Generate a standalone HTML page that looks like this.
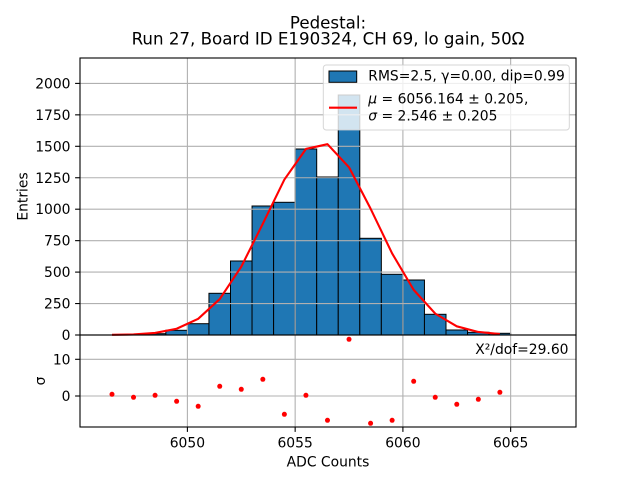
<!DOCTYPE html>
<html><head><meta charset="utf-8"><style>
html,body{margin:0;padding:0;background:#fff;}
svg{display:block;font-family:"DejaVu Sans","Liberation Sans",sans-serif;}
</style></head><body>
<svg width="640" height="480" viewBox="0 0 640 480" xmlns="http://www.w3.org/2000/svg">
<rect width="640" height="480" fill="#fff"/>
<!-- title -->
<text x="328" y="28.3" font-size="16.67" text-anchor="middle">Pedestal:</text>
<text x="328" y="44.3" font-size="16.67" text-anchor="middle">Run 27, Board ID E190324, CH 69, lo gain, 50Ω</text>

<!-- bars -->
<g fill="#1f77b4" stroke="#000" stroke-width="1">
<rect x="144.3" y="333.7" width="21.55" height="1.3"/>
<rect x="165.85" y="330.3" width="21.55" height="4.7"/>
<rect x="187.4" y="323.7" width="21.55" height="11.3"/>
<rect x="208.95" y="293.3" width="21.55" height="41.7"/>
<rect x="230.5" y="261" width="21.55" height="74"/>
<rect x="252.05" y="206" width="21.55" height="129"/>
<rect x="273.6" y="202.3" width="21.55" height="132.7"/>
<rect x="295.15" y="149" width="21.55" height="186"/>
<rect x="316.7" y="177" width="21.55" height="158"/>
<rect x="338.25" y="95" width="21.55" height="240"/>
<rect x="359.8" y="238.3" width="21.55" height="96.7"/>
<rect x="381.35" y="274.3" width="21.55" height="60.7"/>
<rect x="402.9" y="280" width="21.55" height="55"/>
<rect x="424.45" y="314.3" width="21.55" height="20.7"/>
<rect x="446.0" y="330" width="21.55" height="5"/>
<rect x="467.55" y="332.3" width="21.55" height="2.7"/>
<rect x="489.1" y="333.3" width="21.55" height="1.7"/>
</g>

<!-- grid top -->
<g stroke="#b0b0b0" stroke-width="1.1">
<line x1="80" x2="576" y1="303.55" y2="303.55"/>
<line x1="80" x2="576" y1="272.1" y2="272.1"/>
<line x1="80" x2="576" y1="240.65" y2="240.65"/>
<line x1="80" x2="576" y1="209.2" y2="209.2"/>
<line x1="80" x2="576" y1="177.75" y2="177.75"/>
<line x1="80" x2="576" y1="146.3" y2="146.3"/>
<line x1="80" x2="576" y1="114.85" y2="114.85"/>
<line x1="80" x2="576" y1="83.4" y2="83.4"/>
<line x1="187.4" x2="187.4" y1="58" y2="335"/>
<line x1="295.15" x2="295.15" y1="58" y2="335"/>
<line x1="402.9" x2="402.9" y1="58" y2="335"/>
<line x1="510.65" x2="510.65" y1="58" y2="335"/>
</g>

<!-- fit curve -->
<polyline fill="none" stroke="#ff0000" stroke-width="2.1" stroke-linejoin="round" points="112.0,334.86 133.53,334.41 155.08,332.93 176.63,328.74 198.18,318.8 219.73,299.06 241.28,266.67 262.83,223.67 284.38,179.55 305.93,148.96 327.48,144.2 349.03,167.28 370.58,208.65 392.13,253.42 413.68,289.86 435.23,313.6 456.78,326.3 478.33,331.97 499.88,334.1"/>

<!-- legend -->
<rect x="323.3" y="65" width="246" height="65" rx="3" ry="3" fill="#fff" fill-opacity="0.8" stroke="#cccccc" stroke-opacity="0.8" stroke-width="1"/>
<rect x="329" y="71" width="27.7" height="11.3" fill="#1f77b4" stroke="#000" stroke-width="1"/>
<text x="368.3" y="80.7" font-size="13.89">RMS=2.5, γ=0.00, dip=0.99</text>
<line x1="329" x2="357" y1="107.7" y2="107.7" stroke="#ff0000" stroke-width="2.1"/>
<text x="368.3" y="103.3" font-size="13.89"><tspan font-style="italic">μ</tspan> = 6056.164 ± 0.205,</text>
<text x="368.3" y="120.7" font-size="13.89"><tspan font-style="italic">σ</tspan> = 2.546 ± 0.205</text>

<!-- top axes spines -->
<rect x="80" y="58" width="496" height="277" fill="none" stroke="#000" stroke-width="1.1"/>
<!-- top y ticks -->
<g stroke="#000" stroke-width="1.1">
<line x1="75.1" x2="80" y1="335" y2="335"/>
<line x1="75.1" x2="80" y1="303.55" y2="303.55"/>
<line x1="75.1" x2="80" y1="272.1" y2="272.1"/>
<line x1="75.1" x2="80" y1="240.65" y2="240.65"/>
<line x1="75.1" x2="80" y1="209.2" y2="209.2"/>
<line x1="75.1" x2="80" y1="177.75" y2="177.75"/>
<line x1="75.1" x2="80" y1="146.3" y2="146.3"/>
<line x1="75.1" x2="80" y1="114.85" y2="114.85"/>
<line x1="75.1" x2="80" y1="83.4" y2="83.4"/>
</g>
<g font-size="13.89" text-anchor="end">
<text x="70.5" y="340">0</text>
<text x="70.5" y="308.55">250</text>
<text x="70.5" y="277.1">500</text>
<text x="70.5" y="245.65">750</text>
<text x="70.5" y="214.2">1000</text>
<text x="70.5" y="182.75">1250</text>
<text x="70.5" y="151.3">1500</text>
<text x="70.5" y="119.85">1750</text>
<text x="70.5" y="88.4">2000</text>
</g>
<text transform="translate(27.3,196.5) rotate(-90)" font-size="13.89" text-anchor="middle">Entries</text>

<!-- bottom axes grid -->
<g stroke="#b0b0b0" stroke-width="1.1">
<line x1="80" x2="576" y1="359.3" y2="359.3"/>
<line x1="80" x2="576" y1="396" y2="396"/>
<line x1="187.4" x2="187.4" y1="335" y2="427"/>
<line x1="295.15" x2="295.15" y1="335" y2="427"/>
<line x1="402.9" x2="402.9" y1="335" y2="427"/>
<line x1="510.65" x2="510.65" y1="335" y2="427"/>
</g>
<!-- residual dots -->
<g fill="#ff0000">
<circle cx="112.0" cy="394.3" r="2.5"/>
<circle cx="133.53" cy="397.3" r="2.5"/>
<circle cx="155.08" cy="395.3" r="2.5"/>
<circle cx="176.63" cy="401.3" r="2.5"/>
<circle cx="198.18" cy="406.3" r="2.5"/>
<circle cx="219.73" cy="386.3" r="2.5"/>
<circle cx="241.28" cy="389.3" r="2.5"/>
<circle cx="262.83" cy="379.3" r="2.5"/>
<circle cx="284.38" cy="414.3" r="2.5"/>
<circle cx="305.93" cy="395.3" r="2.5"/>
<circle cx="327.48" cy="420.3" r="2.5"/>
<circle cx="349.03" cy="339.3" r="2.5"/>
<circle cx="370.58" cy="423.3" r="2.5"/>
<circle cx="392.13" cy="420.3" r="2.5"/>
<circle cx="413.68" cy="381.3" r="2.5"/>
<circle cx="435.23" cy="397.3" r="2.5"/>
<circle cx="456.78" cy="404.3" r="2.5"/>
<circle cx="478.33" cy="399.3" r="2.5"/>
<circle cx="499.88" cy="392.3" r="2.5"/>
</g>
<text x="568.5" y="354" font-size="13.89" text-anchor="end">X²/dof=29.60</text>
<rect x="80" y="335" width="496" height="92" fill="none" stroke="#000" stroke-width="1.1"/>
<g stroke="#000" stroke-width="1.1">
<line x1="75.1" x2="80" y1="359.3" y2="359.3"/>
<line x1="75.1" x2="80" y1="396" y2="396"/>
<line x1="187.4" x2="187.4" y1="427" y2="431.9"/>
<line x1="295.15" x2="295.15" y1="427" y2="431.9"/>
<line x1="402.9" x2="402.9" y1="427" y2="431.9"/>
<line x1="510.65" x2="510.65" y1="427" y2="431.9"/>
</g>
<g font-size="13.89" text-anchor="end">
<text x="70.5" y="364.3">10</text>
<text x="70.5" y="401">0</text>
</g>
<g font-size="13.89" text-anchor="middle">
<text x="187.4" y="447.3">6050</text>
<text x="295.15" y="447.3">6055</text>
<text x="402.9" y="447.3">6060</text>
<text x="510.65" y="447.3">6065</text>
<text x="328" y="466.7">ADC Counts</text>
</g>
<text transform="translate(45,381) rotate(-90)" font-size="13.89" text-anchor="middle">σ</text>
</svg>
</body></html>
